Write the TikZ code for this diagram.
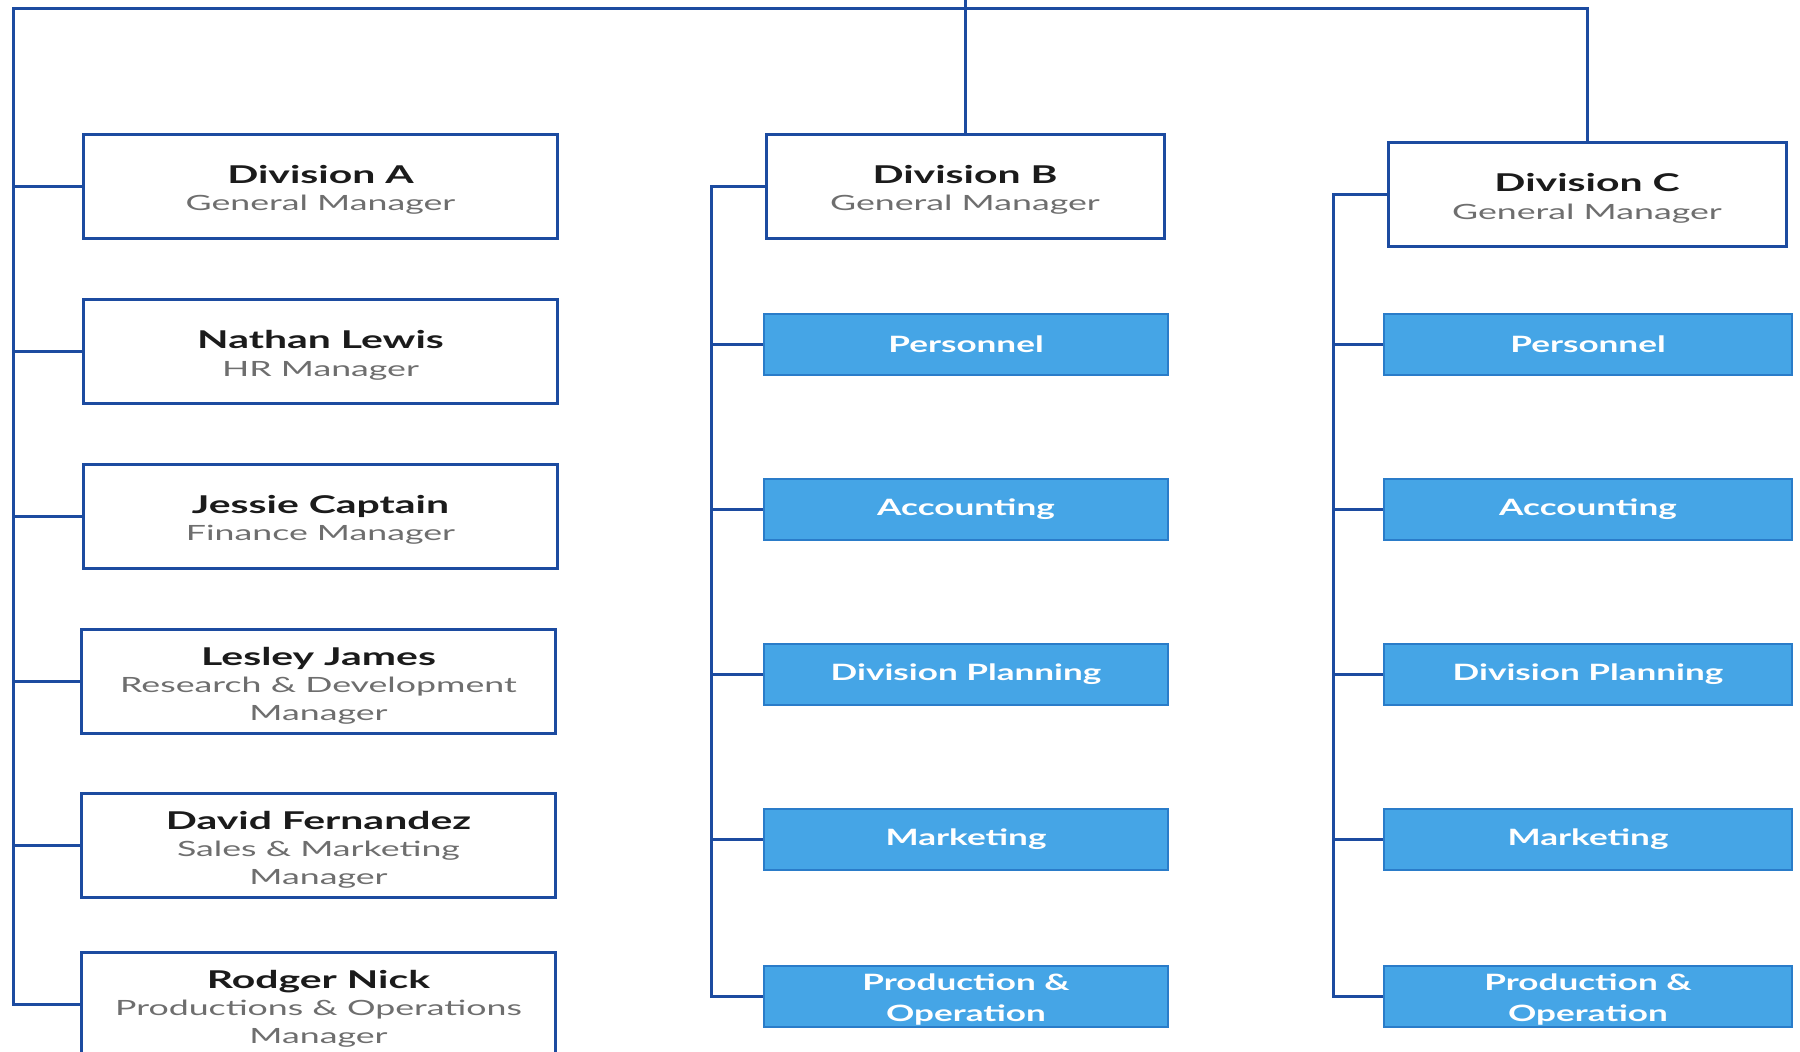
\documentclass[tikz,border=0pt]{standalone}
\usepackage{fontspec}
\setmainfont{Lato}[FakeStretch=1.56]
\newfontfamily\namefont{Lato}[FakeStretch=1.67]
\newfontfamily\rolefont{Lato}[FakeStretch=1.7]
\usetikzlibrary{calc}

\definecolor{linkblue}{HTML}{1C4BA0}
\definecolor{tilefill}{HTML}{45A5E6}
\definecolor{tileedge}{HTML}{2A7CC9}
\definecolor{namegray}{HTML}{1B1B1B}
\definecolor{rolegray}{HTML}{6E6E6E}

\tikzset{
  link/.style={draw=linkblue, line width=3pt, line join=miter},
  person/.style={draw=linkblue, line width=3pt, fill=white,
    minimum width=474pt, minimum height=104pt, inner sep=0pt,
    align=center, text=rolegray, font=\rolefont\fontsize{21}{27.5}\selectfont},
  head/.style={person, minimum width=398pt},
  tile/.style={draw=tileedge, line width=2pt, fill=tilefill,
    minimum height=61pt, inner sep=0pt, align=center, text=white,
    font=\bfseries\fontsize{22.5}{30.5}\selectfont},
  tileB/.style={tile, minimum width=404pt},
  tileC/.style={tile, minimum width=408pt},
}
% bold name line; the strut lowers the text block a little in its box
\newcommand\who[1]{{\color{namegray}\namefont\bfseries\fontsize{24.5}{27.5}\selectfont\rule{0pt}{26pt}#1}}
% two-line department label, nudged down by a strut on its first line
\newcommand\twoline[2]{\rule{0pt}{23pt}#1\\#2}

\begin{document}
\begin{tikzpicture}[x=1pt, y=-1pt]
\useasboundingbox (0,0) rectangle (1800,1052);
\clip (0,0) rectangle (1800,1052);

% junction points of the trunk lines
\coordinate (top) at (965,0);
\coordinate (tl) at (13,8.5);
\coordinate (tr) at (1587,8.5);
\coordinate (bx) at (711,0);
\coordinate (cx) at (1333,0);

% head office column
\node[person] (divA)   at (320.5,186)   {\who{Division A}\\General Manager};
\node[person] (nathan) at (320.5,351.5) {\who{Nathan Lewis}\\HR Manager};
\node[person] (jessie) at (320.5,516)   {\who{Jessie Captain}\\Finance Manager};
\node[person] (lesley) at (318.5,681.5) {\who{Lesley James}\\Research \& Development\\Manager};
\node[person] (david)  at (318.5,845.5) {\who{David Fernandez}\\Sales \& Marketing\\Manager};
\node[person] (rodger) at (318.5,1004.5){\who{Rodger Nick}\\Productions \& Operations\\Manager};

% division heads
\node[head] (divB) at (965,186)   {\who{Division B}\\General Manager};
\node[head] (divC) at (1587,194.5) {\who{Division C}\\General Manager};

% division B departments
\node[tileB] (bpers) at (966,344.5) {Personnel};
\node[tileB] (bacct) at (966,509)   {Accounting};
\node[tileB] (bplan) at (966,674)   {Division Planning};
\node[tileB] (bmark) at (966,839)   {Marketing};
\node[tileB] (bprod) at (966,996.5) {\twoline{Production \&}{Operation}};

% division C departments
\node[tileC] (cpers) at (1588,344.5) {Personnel};
\node[tileC] (cacct) at (1588,509)   {Accounting};
\node[tileC] (cplan) at (1588,674)   {Division Planning};
\node[tileC] (cmark) at (1588,839)   {Marketing};
\node[tileC] (cprod) at (1588,996.5) {\twoline{Production \&}{Operation}};

% top trunk
\draw[link] (top) -- (divB.north);
\draw[link] (rodger.west) -| (tl) -- (tr) -- (divC.north);

% head office branches
\foreach \n in {divA,nathan,jessie,lesley,david}
  \draw[link] (\n.west) -- (\n.west -| tl);

% division B branches
\draw[link] (divB.west) -| (bx |- bprod.west) -- (bprod.west);
\foreach \n in {bpers,bacct,bplan,bmark}
  \draw[link] (\n.west) -- (\n.west -| bx);

% division C branches
\draw[link] (divC.west) -| (cx |- cprod.west) -- (cprod.west);
\foreach \n in {cpers,cacct,cplan,cmark}
  \draw[link] (\n.west) -- (\n.west -| cx);
\end{tikzpicture}
\end{document}
